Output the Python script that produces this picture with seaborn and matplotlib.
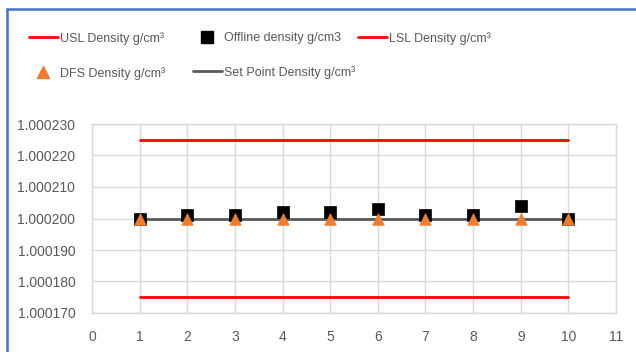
import matplotlib
matplotlib.use("Agg")
import matplotlib.pyplot as plt
import seaborn as sns
import pandas as pd
from matplotlib.lines import Line2D
from matplotlib.patches import Rectangle

samples = [1, 2, 3, 4, 5, 6, 7, 8, 9, 10]
usl = [1.000225] * 10
lsl = [1.000175] * 10
set_point = [1.000200] * 10
offline = [1.000200, 1.000201, 1.000201, 1.000202, 1.000202, 1.000203, 1.000201, 1.000201, 1.000204, 1.000200]
dfs = [1.000200] * 10
x_ticks = list(range(0, 12))
y_ticks = [1.000170, 1.000180, 1.000190, 1.000200, 1.000210, 1.000220, 1.000230]

df = pd.DataFrame({"x": samples, "usl": usl, "lsl": lsl, "sp": set_point,
                   "off": offline, "dfs": dfs})

sns.set_theme(style="white")
plt.rcParams['font.family'] = ['Liberation Sans', 'DejaVu Sans']
txt = "#595959"

fig = plt.figure(figsize=(6.36, 3.52), dpi=100)
ax = fig.add_axes([92/636, 1-313/352, (616-92)/636, (313-124)/352])

sns.lineplot(data=df, x="x", y="usl", ax=ax, color="#ff0000", linewidth=2, zorder=3)
sns.lineplot(data=df, x="x", y="lsl", ax=ax, color="#ff0000", linewidth=2, zorder=3)
sns.lineplot(data=df, x="x", y="sp", ax=ax, color="#595959", linewidth=2, zorder=3)
sns.scatterplot(data=df, x="x", y="off", ax=ax, color="black", marker="s", s=70,
                edgecolor="black", linewidth=0.5, zorder=4)
sns.scatterplot(data=df, x="x", y="dfs", ax=ax, color="#ed7d31", marker="^", s=70,
                edgecolor="#ed7d31", linewidth=0.5, zorder=5)

ax.set_xlim(0, 11)
ax.set_ylim(1.000170, 1.000230)
ax.set_xticks(x_ticks)
ax.set_xticklabels([str(t) for t in x_ticks])
ax.set_yticks(y_ticks)
ax.set_yticklabels([f"{v:.6f}" for v in y_ticks])
ax.grid(True, color="#d9d9d9", linewidth=1)
for s in ax.spines.values():
    s.set_color("#d9d9d9")
    s.set_linewidth(1)
ax.tick_params(axis="both", colors=txt, labelsize=10, length=0)
ax.tick_params(axis="y", pad=12)
ax.tick_params(axis="x", pad=12)
ax.set_xlabel("")
ax.set_ylabel("")

h_usl = Line2D([], [], color="#ff0000", linewidth=2)
h_dfs = Line2D([], [], color="#ed7d31", marker="^", linestyle="none", markersize=8)
h_off = Line2D([], [], color="black", marker="s", linestyle="none", markersize=8)
h_sp = Line2D([], [], color="#595959", linewidth=2)
h_lsl = Line2D([], [], color="#ff0000", linewidth=2)

columns = [
    (29, [h_usl, h_dfs], ["USL Density g/cm³", "DFS Density g/cm³"]),
    (193, [h_off, h_sp], ["Offline density g/cm3", "Set Point Density g/cm³"]),
    (358, [h_lsl], ["LSL Density g/cm³"]),
]
for xpix, hs, ls in columns:
    leg = fig.legend(hs, ls, loc="upper left",
                     bbox_to_anchor=(xpix/636, 1-32/352), frameon=False,
                     fontsize=9, handlelength=2.3, handletextpad=0.15,
                     labelspacing=1.75, labelcolor=txt,
                     borderpad=0, borderaxespad=0)

fig.add_artist(Rectangle((7/636, -0.1), 1.2, 1.1 - 9/352, transform=fig.transFigure,
                         fill=False, edgecolor="#4472c4", linewidth=1.8))

fig.savefig("out.png", dpi=100)
